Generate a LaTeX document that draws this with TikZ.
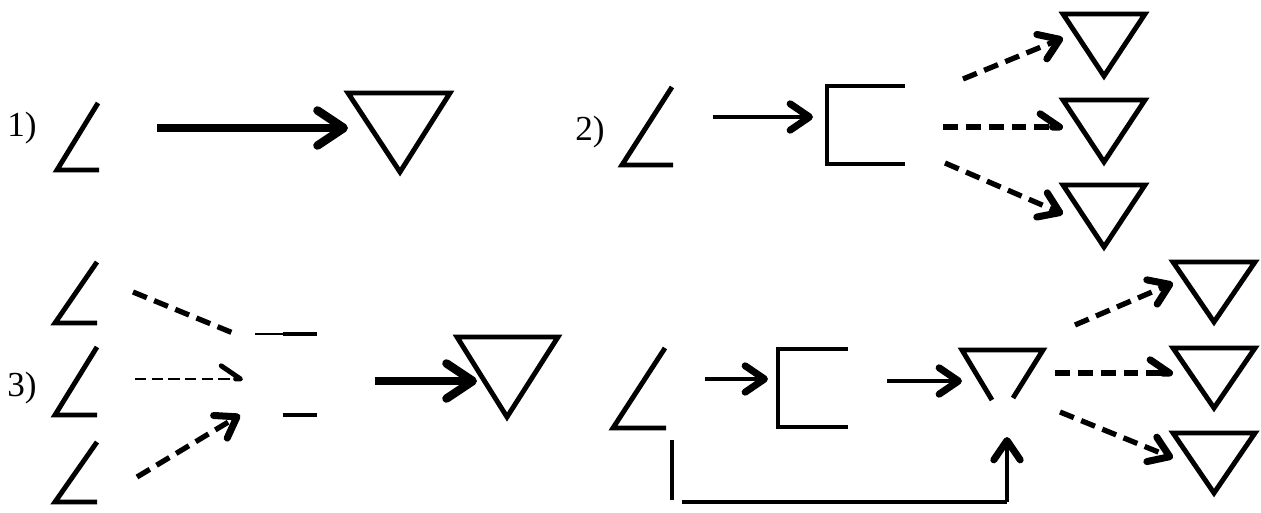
\documentclass[tikz,border=0pt]{standalone}
\usepackage{fontspec}
\setmainfont{Liberation Serif}
\usetikzlibrary{arrows.meta}
\tikzset{
  lbl/.style={font=\fontsize{20}{24}\selectfont,inner sep=0pt},
  sym/.style={line width=2.8pt,line join=miter},
  barb/.style={-{Straight Barb[round,length=11pt,width=15pt,line width=4pt]}},
  flow/.style={line width=2.7pt,barb},
  bigflow/.style={line width=4.6pt,-{Straight Barb[round,length=15pt,width=20pt,line width=4.8pt]}},
  dflow/.style={line width=3pt,dash pattern=on 8.5pt off 4.5pt,barb},
  hflow/.style={line width=3pt,dash pattern=on 8.5pt off 4.5pt,-{Straight Barb[left,round,length=11pt,width=15pt,line width=4pt]}},
  thinflow/.style={line width=1.2pt,dash pattern=on 6.5pt off 3pt,-{Straight Barb[left,round,length=11pt,width=15pt,line width=2.8pt]}}
}
\begin{document}
\begin{tikzpicture}[x=0.02cm,y=-0.02cm]
  \useasboundingbox (0,0) rectangle (1261,513);
  % 1)
  \node[lbl] (n1) at (22,128) {1)};
  \draw[sym] (98,103) -- (57,170) -- (99,170);
  \draw[sym] (348,93) -- (450,93) -- (400,172) -- cycle;
  \coordinate (a1) at (157,128); \coordinate (b1) at (348,128);
  \draw[bigflow] (a1) -- (b1);
  % 2)
  \node[lbl] (n2) at (590,132) {2)};
  \draw[sym] (672,87) -- (622,165) -- (673,165);
  \draw[sym] (905,86) -- (827,86) -- (827,164) -- (905,164);
  \foreach \y in {14,100,185}
    \draw[sym] (1063,\y) -- (1145,\y) -- (1104,\y+62) -- cycle;
  \coordinate (a2) at (713,117); \coordinate (b2) at (813,117);
  \coordinate (c2) at (963,79);  \coordinate (d2) at (1063,38);
  \coordinate (e2) at (943,127); \coordinate (f2) at (1063,127);
  \coordinate (g2) at (945,163); \coordinate (h2) at (1063,214);
  \draw[flow] (a2) -- (b2);
  \draw[dflow] (c2) -- (d2);
  \draw[hflow] (e2) -- (f2);
  \draw[dflow] (g2) -- (h2);
  % 3)
  \node[lbl] (n3) at (22,388) {3)};
  \draw[sym] (97,262) -- (55,323) -- (97,323);
  \draw[sym] (97,347) -- (55,415) -- (97,415);
  \draw[sym] (97,442) -- (55,502) -- (97,502);
  \draw[line width=0.8pt] (255,334) -- (283,334);
  \draw[sym] (283,334) -- (317,334);
  \draw[sym] (283,415) -- (317,415);
  \draw[sym] (457,337) -- (558,337) -- (507,417) -- cycle;
  \coordinate (a3) at (133,292); \coordinate (b3) at (233,333);
  \coordinate (c3) at (135,379); \coordinate (d3) at (243,379);
  \coordinate (e3) at (137,477); \coordinate (f3) at (240,415);
  \coordinate (g3) at (375,381); \coordinate (h3) at (477,381);
  \draw[line width=3pt,dash pattern=on 8.5pt off 4.5pt] (a3) -- (b3);
  \draw[thinflow] (c3) -- (d3);
  \draw[dflow] (e3) -- (f3);
  \draw[bigflow] (g3) -- (h3);
  % 4)
  \draw[sym] (665,348) -- (613,428) -- (666,428);
  \draw[sym] (848,349) -- (778,349) -- (778,427) -- (848,427);
  \draw[sym] (992,400) -- (962,350) -- (1043,350) -- (1013,398);
  \foreach \y in {262,348,433}
    \draw[sym] (1173,\y) -- (1255,\y) -- (1214,\y+60) -- cycle;
  \coordinate (a4) at (705,379);  \coordinate (b4) at (768,379);
  \coordinate (c4) at (887,381);  \coordinate (d4) at (962,381);
  \coordinate (e4) at (672,440);  \coordinate (f4) at (672,500);
  \coordinate (g4) at (682,502);  \coordinate (h4) at (1007,502);
  \coordinate (i4) at (1007,437);
  \coordinate (j4) at (1075,325); \coordinate (k4) at (1173,283);
  \coordinate (l4) at (1055,373); \coordinate (m4) at (1173,373);
  \coordinate (o4) at (1060,412); \coordinate (p4) at (1173,458);
  \draw[flow] (a4) -- (b4);
  \draw[flow] (c4) -- (d4);
  \draw[sym] (e4) -- (f4);
  \draw[sym] (g4) -- (h4);
  \draw[flow] (h4) -- (i4);
  \draw[dflow] (j4) -- (k4);
  \draw[hflow] (l4) -- (m4);
  \draw[dflow] (o4) -- (p4);
\end{tikzpicture}
\end{document}
